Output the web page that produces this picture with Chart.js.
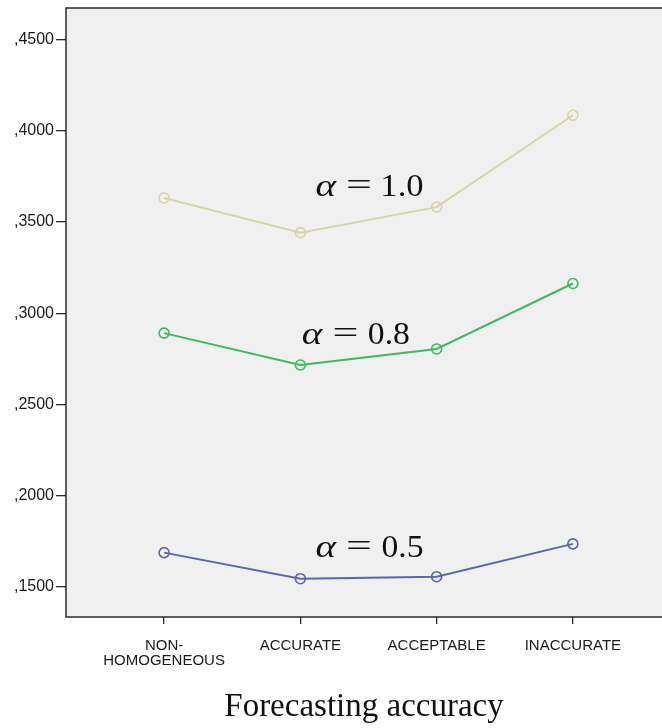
<!DOCTYPE html>
<html>
<head>
<meta charset="utf-8">
<script src="https://cdn.jsdelivr.net/npm/chart.js@4/dist/chart.umd.min.js"></script>
<style>
  html, body { margin: 0; padding: 0; background: #ffffff; overflow: hidden; }
  #wrap { width: 662px; height: 728px; }
</style>
</head>
<body>
<div id="wrap"><canvas id="chart" width="662" height="728"></canvas></div>
<script>
// Categories on the horizontal axis
const categories = [['NON-', 'HOMOGENEOUS'], 'ACCURATE', 'ACCEPTABLE', 'INACCURATE'];

// Mean values per series (alpha = 1.0, 0.8, 0.5)
const alpha10 = [0.3632, 0.3442, 0.3582, 0.4086];
const alpha08 = [0.2891, 0.2716, 0.2804, 0.3163];
const alpha05 = [0.1687, 0.1544, 0.1555, 0.1735];

// Vertical axis ticks
const yTicks = [0.15, 0.20, 0.25, 0.30, 0.35, 0.40, 0.45];

// Series annotations
const seriesNames = ['1.0', '0.8', '0.5'];

const toPoints = arr => arr.map((v, i) => ({ x: i, y: v }));

// Where each annotation sits, in axis units
const annotationAnchors = [
  { x: 1.5, y: 0.3700 },
  { x: 1.4, y: 0.2890 },
  { x: 1.5, y: 0.1722 }
];

const frameColor = '#2a2a2a';

const plotFrame = {
  id: 'plotFrame',
  beforeDatasetsDraw(chart) {
    const { ctx, chartArea: a } = chart;
    ctx.save();
    ctx.fillStyle = '#f0f0f0';
    ctx.fillRect(a.left, a.top, a.right - a.left, a.bottom - a.top);
    ctx.restore();
  },
  afterDatasetsDraw(chart) {
    const { ctx, chartArea: a } = chart;
    ctx.save();
    ctx.strokeStyle = frameColor;
    ctx.lineWidth = 1.5;
    ctx.beginPath();
    ctx.moveTo(a.right + 2, a.top);
    ctx.lineTo(a.left, a.top);
    ctx.lineTo(a.left, a.bottom);
    ctx.lineTo(a.right + 2, a.bottom);
    ctx.stroke();
    ctx.restore();
  }
};

// Draws one glyph run stretched horizontally to a given ink width
function drawFitted(ctx, text, font, left, baseline, inkWidth) {
  ctx.font = font;
  const m = ctx.measureText(text);
  const ink = m.actualBoundingBoxLeft + m.actualBoundingBoxRight;
  const sx = ink > 0 ? inkWidth / ink : 1;
  ctx.save();
  ctx.translate(left, baseline);
  ctx.scale(sx, 1);
  ctx.fillText(text, m.actualBoundingBoxLeft, 0);
  ctx.restore();
}

const alphaLabels = {
  id: 'alphaLabels',
  afterDatasetsDraw(chart) {
    const { ctx } = chart;
    const xs = chart.scales.x, ys = chart.scales.y;
    const size = 32;
    const italic = `italic ${size}px "Liberation Serif", "DejaVu Serif", serif`;
    const upright = `${size}px "Liberation Serif", "DejaVu Serif", serif`;
    ctx.save();
    ctx.fillStyle = '#111111';
    ctx.textBaseline = 'alphabetic';
    ctx.textAlign = 'left';
    seriesNames.forEach((name, i) => {
      const cx = xs.getPixelForValue(annotationAnchors[i].x);
      const cy = ys.getPixelForValue(annotationAnchors[i].y);
      const base = cy + 10.5;
      drawFitted(ctx, '\u03B1', italic, cx - 53, base, 22);
      drawFitted(ctx, '=', upright, cx - 21, base - 1, 23);
      drawFitted(ctx, name, upright, cx + 14, base, 40);
    });
    ctx.restore();
  }
};

const seriesStyle = (color) => ({
  borderColor: color,
  backgroundColor: color,
  borderWidth: 2,
  pointRadius: 5,
  pointHoverRadius: 5,
  pointBorderWidth: 1.6,
  pointBorderColor: color,
  pointBackgroundColor: 'rgba(0,0,0,0)',
  tension: 0,
  fill: false
});

new Chart(document.getElementById('chart'), {
  type: 'line',
  data: {
    datasets: [
      Object.assign({ label: 'alpha 1.0', data: toPoints(alpha10) }, seriesStyle('#d7d3a9')),
      Object.assign({ label: 'alpha 0.8', data: toPoints(alpha08) }, seriesStyle('#3fb862')),
      Object.assign({ label: 'alpha 0.5', data: toPoints(alpha05) }, seriesStyle('#5866b3'))
    ]
  },
  options: {
    responsive: false,
    animation: false,
    devicePixelRatio: 1,
    layout: { autoPadding: false, padding: { top: 8, right: 0, left: 0, bottom: 0 } },
    plugins: {
      legend: { display: false },
      tooltip: { enabled: false }
    },
    scales: {
      x: {
        type: 'linear',
        min: -0.72,
        max: 3.654,
        border: { display: false },
        grid: { display: true, drawOnChartArea: false, drawTicks: true, tickLength: 7, color: frameColor, lineWidth: 1.3 },
        afterBuildTicks: (scale) => { scale.ticks = categories.map((_, i) => ({ value: i })); },
        afterFit: (scale) => {
          scale.height = 728 - 617;
          scale.paddingLeft = 0;
          scale.paddingRight = 0;
        },
        ticks: {
          autoSkip: false,
          maxRotation: 0,
          minRotation: 0,
          padding: 14,
          color: '#1a1a1a',
          font: { family: '"Liberation Sans", Arial, sans-serif', size: 15, lineHeight: 1.0 },
          callback: (v) => categories[v]
        },
        title: {
          display: true,
          text: 'Forecasting accuracy',
          color: '#111111',
          font: { family: '"Liberation Serif", "DejaVu Serif", serif', size: 33, lineHeight: 1.2 },
          padding: { top: 0, bottom: 1 }
        }
      },
      y: {
        type: 'linear',
        min: 0.1334,
        max: 0.4674,
        border: { display: false },
        grid: { display: true, drawOnChartArea: false, drawTicks: true, tickLength: 10, color: frameColor, lineWidth: 1.3 },
        afterBuildTicks: (scale) => { scale.ticks = yTicks.map(v => ({ value: v })); },
        afterFit: (scale) => {
          scale.width = 66;
          scale.paddingTop = 0;
          scale.paddingBottom = 0;
        },
        ticks: {
          padding: 2,
          color: '#1a1a1a',
          font: { family: '"Liberation Sans", Arial, sans-serif', size: 16 },
          callback: (v) => ',' + v.toFixed(4).split('.')[1]
        }
      }
    }
  },
  plugins: [plotFrame, alphaLabels]
});
</script>
</body>
</html>
